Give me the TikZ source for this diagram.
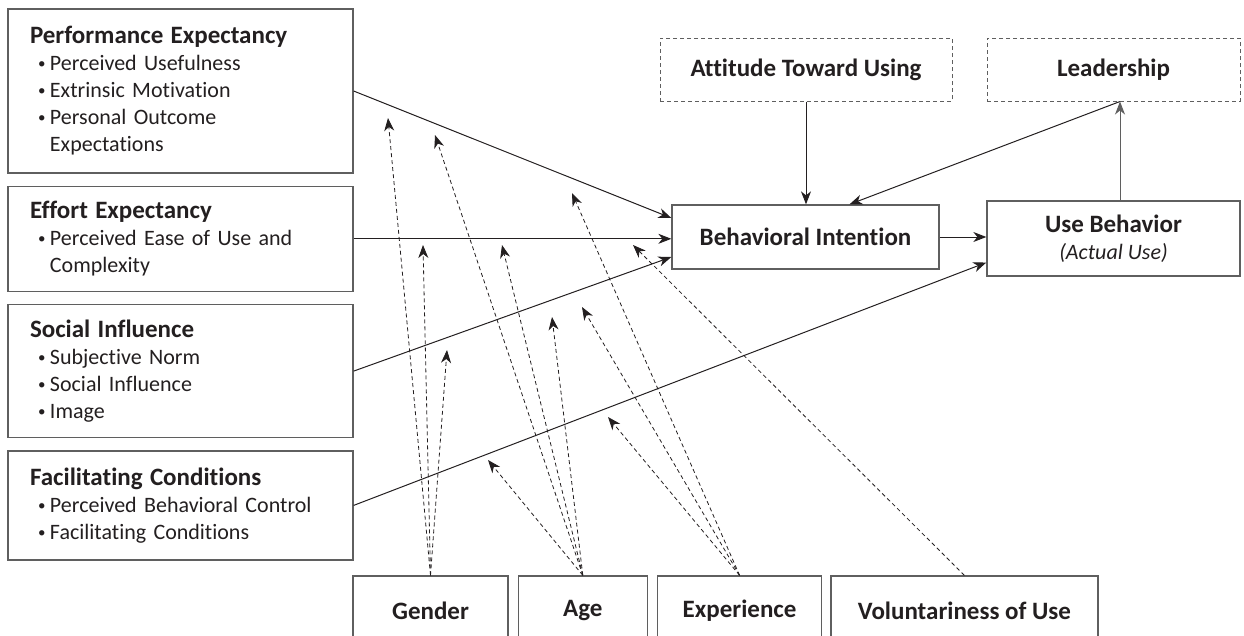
\documentclass[tikz,border=0pt]{standalone}
\usepackage{fontspec}
\setmainfont{Carlito}[Ligatures={NoCommon,NoContextual}]
\usetikzlibrary{arrows.meta,positioning}

\definecolor{boxgray}{RGB}{95,95,95}
\definecolor{ink}{RGB}{35,31,32}

\newcommand\bitem{\hspace*{8pt}\makebox[12pt][l]{\raisebox{2pt}{\fontsize{15}{15}\selectfont\textbullet}}}
\newcommand\bcont{\hspace*{20pt}}

\tikzset{
  box/.style={draw=boxgray, line width=1.3pt, rectangle, text=ink},
  leftbox/.style={box, inner xsep=22pt, inner ysep=0pt, text width=301pt, align=left,
    font=\fontsize{22}{27}\selectfont},
  rightbox/.style={box, align=center, font=\fontsize{25}{29}\selectfont\bfseries},
  dashbox/.style={rightbox, dashed, dash pattern=on 4pt off 3pt, line width=1pt},
  botbox/.style={box, minimum height=69pt, font=\fontsize{25}{29}\selectfont\bfseries},
  link/.style={draw=ink, line width=1pt, -{Stealth[length=13pt,width=10pt,inset=4pt]}},
  moder/.style={draw=ink, line width=0.8pt, dash pattern=on 4pt off 3pt,
    -{Stealth[length=13pt,width=10pt,inset=4pt]}}
}

\begin{document}
\begin{tikzpicture}[x=1pt, y=-1pt]
\useasboundingbox (0,0) rectangle (1244,635);

% determinants
\node[leftbox, minimum height=164pt] (pe) at (180.5,91)
  {{\fontsize{25}{27}\selectfont\bfseries Performance Expectancy}\\
   \bitem Perceived Usefulness\\
   \bitem Extrinsic Motivation\\
   \bitem Personal Outcome\\
   \bcont Expectations};
\node[leftbox, minimum height=105pt, below=12pt of pe] (ee)
  {{\fontsize{25}{27}\selectfont\bfseries Effort Expectancy}\\
   \bitem Perceived Ease of Use and\\
   \bcont Complexity};
\node[leftbox, minimum height=133pt, below=12pt of ee] (si)
  {{\fontsize{25}{27}\selectfont\bfseries Social Influence}\\
   \bitem Subjective Norm\\
   \bitem Social Influence\\
   \bitem Image};
\node[leftbox, minimum height=109pt, below=12pt of si] (fc)
  {{\fontsize{25}{27}\selectfont\bfseries Facilitating Conditions}\\
   \bitem Perceived Behavioral Control\\
   \bitem Facilitating Conditions};

% outcomes
\node[rightbox, minimum width=267pt, minimum height=64pt] (bi) at (805.5,237) {Behavioral Intention};
\node[rightbox, minimum width=253pt, minimum height=75pt] (ub) at (1113.5,238.5)
  {Use Behavior\\[-2pt]{\fontsize{22}{27}\selectfont\mdseries\itshape (Actual Use)}};
\node[dashbox, minimum width=292pt, minimum height=63pt] (att) at (806,69.5) {Attitude Toward Using};
\node[dashbox, minimum width=253pt, minimum height=63pt] (lead) at (1113.5,69.5) {Leadership};

% moderators
\node[botbox, minimum width=155pt] (gender) at (430.5,610.5) {Gender};
\node[botbox, minimum width=129pt, right=9pt of gender] (age) {Age};
\node[botbox, minimum width=164pt, right=9pt of age] (exp) {Experience};
\node[botbox, minimum width=267pt, right=8pt of exp] (vol) {Voluntariness of Use};

% arrow tips of the moderating effects
\coordinate (g1) at (388,118);
\coordinate (g2) at (423,245);
\coordinate (g3) at (447,350);
\coordinate (a1) at (435,135);
\coordinate (a2) at (502,245);
\coordinate (a3) at (552,317);
\coordinate (a4) at (488,460);
\coordinate (e1) at (572,193);
\coordinate (e2) at (582,307);
\coordinate (e3) at (608,417);
\coordinate (v1) at (633,245);

\draw[link] (pe.east) -- ([yshift=19pt]bi.west);
\draw[link] (ee.east) -- (ee.east -| bi.west);
\draw[link] (si.east) -- ([yshift=-20pt]bi.west);
\draw[link] (fc.east) -- ([yshift=-24pt]ub.west);
\draw[link] (bi.east) -- (bi.east -| ub.west);
\draw[link] (att.south) -- (att.south |- bi.north);
\draw[link] ([xshift=6.5pt]lead.south) -- ([xshift=44pt]bi.north);
\draw[link, draw=boxgray] ([xshift=6.5pt]ub.north) -- ([xshift=6.5pt]lead.south);

\foreach \t in {g1,g2,g3} \draw[moder] (gender.north) -- (\t);
\foreach \t in {a1,a2,a3,a4} \draw[moder] (age.north) -- (\t);
\foreach \t in {e1,e2,e3} \draw[moder] (exp.north) -- (\t);
\draw[moder] (vol.north) -- (v1);
\end{tikzpicture}
\end{document}
